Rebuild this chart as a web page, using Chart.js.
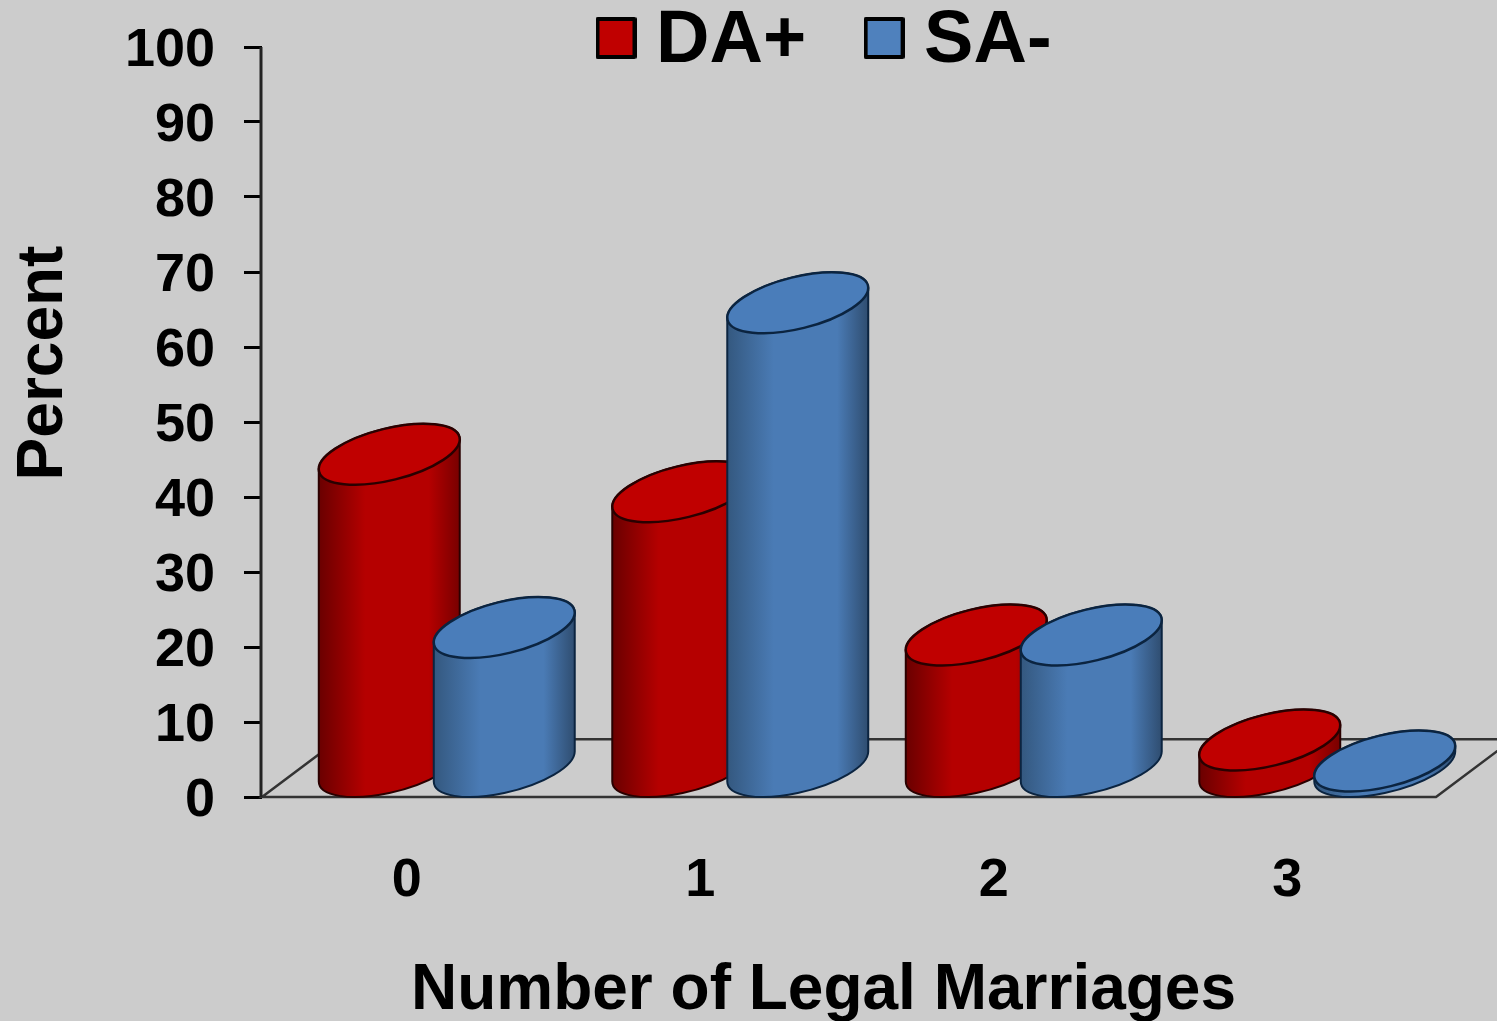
<!DOCTYPE html>
<html>
<head>
<meta charset="utf-8">
<style>html,body{margin:0;padding:0;background:#CCCCCC;overflow:hidden}canvas{display:block}</style>
<script src="https://cdn.jsdelivr.net/npm/chart.js@4"></script>
</head>
<body>
<canvas id="c" width="1497" height="1021"></canvas>
<script>
const categories = ['0', '1', '2', '3'];
const seriesNames = ['DA+', 'SA-'];
const daPlus = [41.7, 36.7, 17.6, 3.6];
const saMinus = [18.6, 61.9, 17.6, 0.8];
const yTicks = [0, 10, 20, 30, 40, 50, 60, 70, 80, 90, 100];
const xTitle = 'Number of Legal Marriages';
const yTitle = 'Percent';

const FONT = '"Liberation Sans", Arial, sans-serif';
const RED = '#C00000', BLUE = '#4F81BD';
const SHADES = {
  [RED]:  {edgeL:'#6A0000', mid:'#B50000', edgeR:'#780000', line:'#2A0000', top:'#C00000'},
  [BLUE]: {edgeL:'#34587F', mid:'#4A7BB5', edgeR:'#2F4D70', line:'#0B2440', top:'#4A7DBA'}
};
// Oblique projection of a cylinder
const SHIFT_X = 38, SHIFT_Y = -30, A = 72.3, B = 25.9, PHI = -13.8 * Math.PI / 180;
const TR = Math.atan2(-B * Math.sin(PHI), A * Math.cos(PHI)), TL = TR + Math.PI;
const XEXT = Math.sqrt(A*A*Math.cos(PHI)**2 + B*B*Math.sin(PHI)**2);

function legendSwatch(color) {
  const s = document.createElement('canvas'); s.width = 41; s.height = 50;
  const g = s.getContext('2d');
  g.fillStyle = color; g.strokeStyle = '#000'; g.lineWidth = 4; g.lineJoin = 'round';
  g.beginPath(); g.rect(2, 2, 37, 38); g.fill(); g.stroke();
  return s;
}

function drawCylinder(ctx, el) {
  const col = SHADES[el.options.backgroundColor];
  const cx = el.x + SHIFT_X, top = el.y + SHIFT_Y, bot = el.base + SHIFT_Y;
  const grad = ctx.createLinearGradient(cx - XEXT, 0, cx + XEXT, 0);
  grad.addColorStop(0, col.edgeL); grad.addColorStop(0.33, col.mid);
  grad.addColorStop(0.78, col.mid); grad.addColorStop(1, col.edgeR);
  ctx.save();
  ctx.beginPath();
  ctx.ellipse(cx, bot, A, B, PHI, TR, TL);
  ctx.ellipse(cx, top, A, B, PHI, TL, TR + 2 * Math.PI);
  ctx.closePath();
  ctx.fillStyle = grad; ctx.fill();
  ctx.strokeStyle = col.line; ctx.lineWidth = 2; ctx.stroke();
  ctx.beginPath();
  ctx.ellipse(cx, top, A, B, PHI, 0, 2 * Math.PI);
  ctx.fillStyle = col.top; ctx.fill();
  ctx.lineWidth = 2.5; ctx.stroke();
  ctx.restore();
}
Chart.BarElement.prototype.draw = function () {};

const cylinderPlugin = {
  id: 'cylinderPlugin',
  beforeLayout(chart) {
    const lg = chart.legend;
    if (!lg._zeroFit) {
      const fit = lg.fit;
      lg.fit = function () { fit.call(this); this.height = 0; };
      lg._zeroFit = true;
    }
  },
  afterLayout(chart) {
    const lg = chart.legend;
    lg.left = 538; lg.right = 1497; lg.top = -70; lg.bottom = 200;
    chart.scales.x.right = 1385;   // centres the x title as in the reference
    chart.scales.y.bottom = 679;   // centres the y title as in the reference
  },
  beforeDatasetsDraw(chart) {
    const {ctx, chartArea: a} = chart;
    const y0 = a.bottom, backY = chart.scales.y.getPixelForValue(7.7);
    const dx = (y0 - backY) / 0.75;
    ctx.save();
    ctx.strokeStyle = '#333'; ctx.lineWidth = 2.5;
    ctx.beginPath();
    ctx.moveTo(a.left, y0); ctx.lineTo(a.right, y0);
    ctx.lineTo(a.right + dx, backY); ctx.lineTo(a.left + dx, backY); ctx.closePath();
    ctx.stroke();
    ctx.strokeStyle = '#222'; ctx.lineWidth = 3;
    ctx.beginPath(); ctx.moveTo(a.left - 1, a.top); ctx.lineTo(a.left - 1, y0); ctx.stroke();
    ctx.restore();
  },
  afterDatasetsDraw(chart) {
    chart.data.datasets.forEach((d, i) => {
      chart.getDatasetMeta(i).data.forEach(el => drawCylinder(chart.ctx, el));
    });
  }
};

new Chart(document.getElementById('c'), {
  type: 'bar',
  data: {
    labels: categories,
    datasets: [
      {label: seriesNames[0], data: daPlus, backgroundColor: RED},
      {label: seriesNames[1], data: saMinus, backgroundColor: BLUE}
    ]
  },
  plugins: [cylinderPlugin],
  options: {
    responsive: false,
    animation: false,
    layout: {padding: {top: 47, right: 61, bottom: 0, left: 0}},
    datasets: {bar: {categoryPercentage: 230 / 293.5, barPercentage: 1}},
    plugins: {
      tooltip: {enabled: false},
      legend: {
        position: 'top', align: 'start',
        labels: {
          usePointStyle: true, pointStyleWidth: 6, boxHeight: 40, padding: 75,
          color: '#000', font: {family: FONT, size: 74, weight: 'bold'},
          generateLabels: c => c.data.datasets.map((d, i) => ({
            text: d.label, datasetIndex: i, fontColor: '#000',
            pointStyle: legendSwatch(d.backgroundColor), lineWidth: 0, hidden: false
          }))
        }
      }
    },
    scales: {
      x: {
        afterFit: s => { s.height = 224; },
        grid: {display: false},
        border: {display: false},
        ticks: {color: '#000', font: {family: FONT, size: 54, weight: 'bold'}, padding: 44, labelOffset: -2, maxRotation: 0},
        title: {display: true, text: xTitle, color: '#000', font: {family: FONT, size: 64, weight: 'bold', lineHeight: 0.92}, padding: {top: 0, bottom: 0}}
      },
      y: {
        min: 0, max: 100,
        afterFit: s => { s.width = 262; s.paddingTop = 0; s.paddingBottom = 0; },
        afterBuildTicks: s => { s.ticks = yTicks.map(v => ({value: v})); },
        grid: {drawOnChartArea: false, drawTicks: true, tickLength: 18, tickColor: '#000', tickWidth: 3, color: '#000'},
        border: {display: false},
        ticks: {color: '#000', font: {family: FONT, size: 54, weight: 'bold'}, padding: 29, labelOffset: 4, autoSkip: false},
        title: {display: true, text: yTitle, color: '#000', font: {family: FONT, size: 64, weight: 'bold', lineHeight: 1.0}, padding: {top: 12, bottom: 0}}
      }
    }
  }
});
</script>
</body>
</html>
